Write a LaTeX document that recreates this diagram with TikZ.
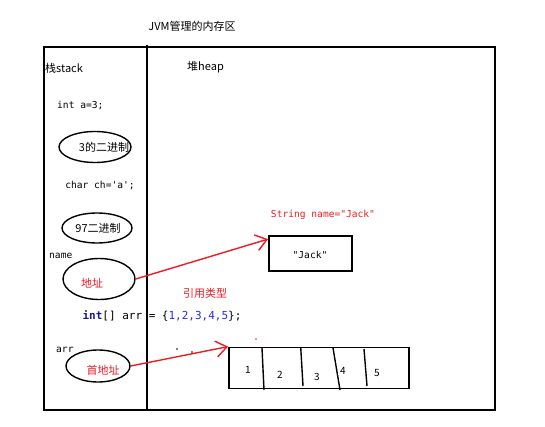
\documentclass[tikz,border=0pt]{standalone}
\usepackage{fontspec}
\setmainfont{Noto Sans CJK SC}
\newfontfamily\codefont{DejaVu Sans Mono}
\usetikzlibrary{shapes.geometric,arrows.meta,positioning}
\definecolor{paintred}{RGB}{237,28,36}
\definecolor{codeblue}{RGB}{40,40,235}
\definecolor{keyblue}{RGB}{25,25,140}
\tikzset{
  cjk/.style={font=\fontsize{11}{13}\selectfont, inner sep=0pt},
  code/.style={font=\codefont\fontsize{9.6}{12}\selectfont, inner sep=0pt},
  slot/.style={draw, ellipse, line width=1.4pt, inner sep=0pt},
  cell/.style={draw, line width=1.8pt, inner sep=0pt},
  ref/.style={draw=paintred, line width=1.4pt, -{Straight Barb[length=11pt,width=16pt,line width=1.4pt]}},
  wall/.style={line width=2pt},
}
\begin{document}
\begin{tikzpicture}[x=1pt,y=-1pt]
    \useasboundingbox (0,0) rectangle (545,427);
    \node[cjk] (title) at (192,26) {JVM管理的内存区};

    % memory area
    \draw[wall] (44,47) rectangle (495,410);
    \draw[wall] (146.5,45) -- (146.5,409);
    \node[cjk, anchor=west] (stack) at (45,68) {栈stack};
    \node[cjk, anchor=west] (heap) at (187,67) {堆heap};

    % stack
    \node[code, anchor=west] (inta) at (57,106) {int a=3;};
    \node[slot, minimum width=72pt, minimum height=31pt] (bin3) at (95,147) {};
    \node[cjk] (bin3txt) at (104,147) {3的二进制};
    \node[code] (charch) at (100,186) {char ch='a';};
    \node[slot, minimum width=70pt, minimum height=30pt] (bin97) at (97,228) {};
    \node[cjk] (bin97txt) at (98,228) {97二进制};
    \node[code, anchor=west] (namelbl) at (49,256) {name};
    \node[slot, minimum width=72pt, minimum height=41pt] (addr) at (99,279) {};
    \node[cjk, text=paintred] (addrtxt) at (92,283) {地址};
    \node[code, anchor=west] (arrlbl) at (56,350) {arr};
    \node[slot, minimum width=64pt, minimum height=32pt] (first) at (98,366) {};
    \node[cjk, text=paintred] (firsttxt) at (103,370) {首地址};

    % heap
    \node[code, text=paintred] (strdecl) at (323,215) {String name="Jack"};
    \node[cell, minimum width=83pt, minimum height=35pt] (jack) at (310.5,253.5) {};
    \node[code] (jacktxt) at (310,255) {"Jack"};
    \node[cjk, text=paintred] (reftype) at (205,293) {引用类型};
    \node[code, font=\codefont\fontsize{11}{13}\selectfont] (arrdecl) at (162,316)
        {{\bfseries\color{keyblue}int}[] arr = \{{\color{codeblue}1,2,3,4,5}\};};

    \node[cell, minimum width=180pt, minimum height=41pt] (arrbox) at (319,368) {};
    \draw[line width=1.4pt] (262,348) -- (264,390);
    \draw[line width=1.4pt] (300.7,347) -- (303,386);
    \draw[line width=1.4pt] (333,348) -- (340,390);
    \draw[line width=1.4pt] (364,349) -- (367,386);
    \node[cjk, font=\fontsize{10}{12}\selectfont] (v1) at (248,370) {1};
    \node[cjk, font=\fontsize{10}{12}\selectfont] (v2) at (280,375) {2};
    \node[cjk, font=\fontsize{10}{12}\selectfont] (v3) at (317,377) {3};
    \node[cjk, font=\fontsize{10}{12}\selectfont] (v4) at (343,371) {4};
    \node[cjk, font=\fontsize{10}{12}\selectfont] (v5) at (377,373) {5};
    \fill (177,349) circle (0.9pt);
    \fill (192,352) circle (0.9pt);
    \fill[paintred] (256,339) circle (0.9pt);

    % references
    \draw[ref] (addr.east) -- ([yshift=-4pt]jack.north west);
    \draw[ref] (first.east) -- (arrbox.north west);
\end{tikzpicture}
\end{document}
